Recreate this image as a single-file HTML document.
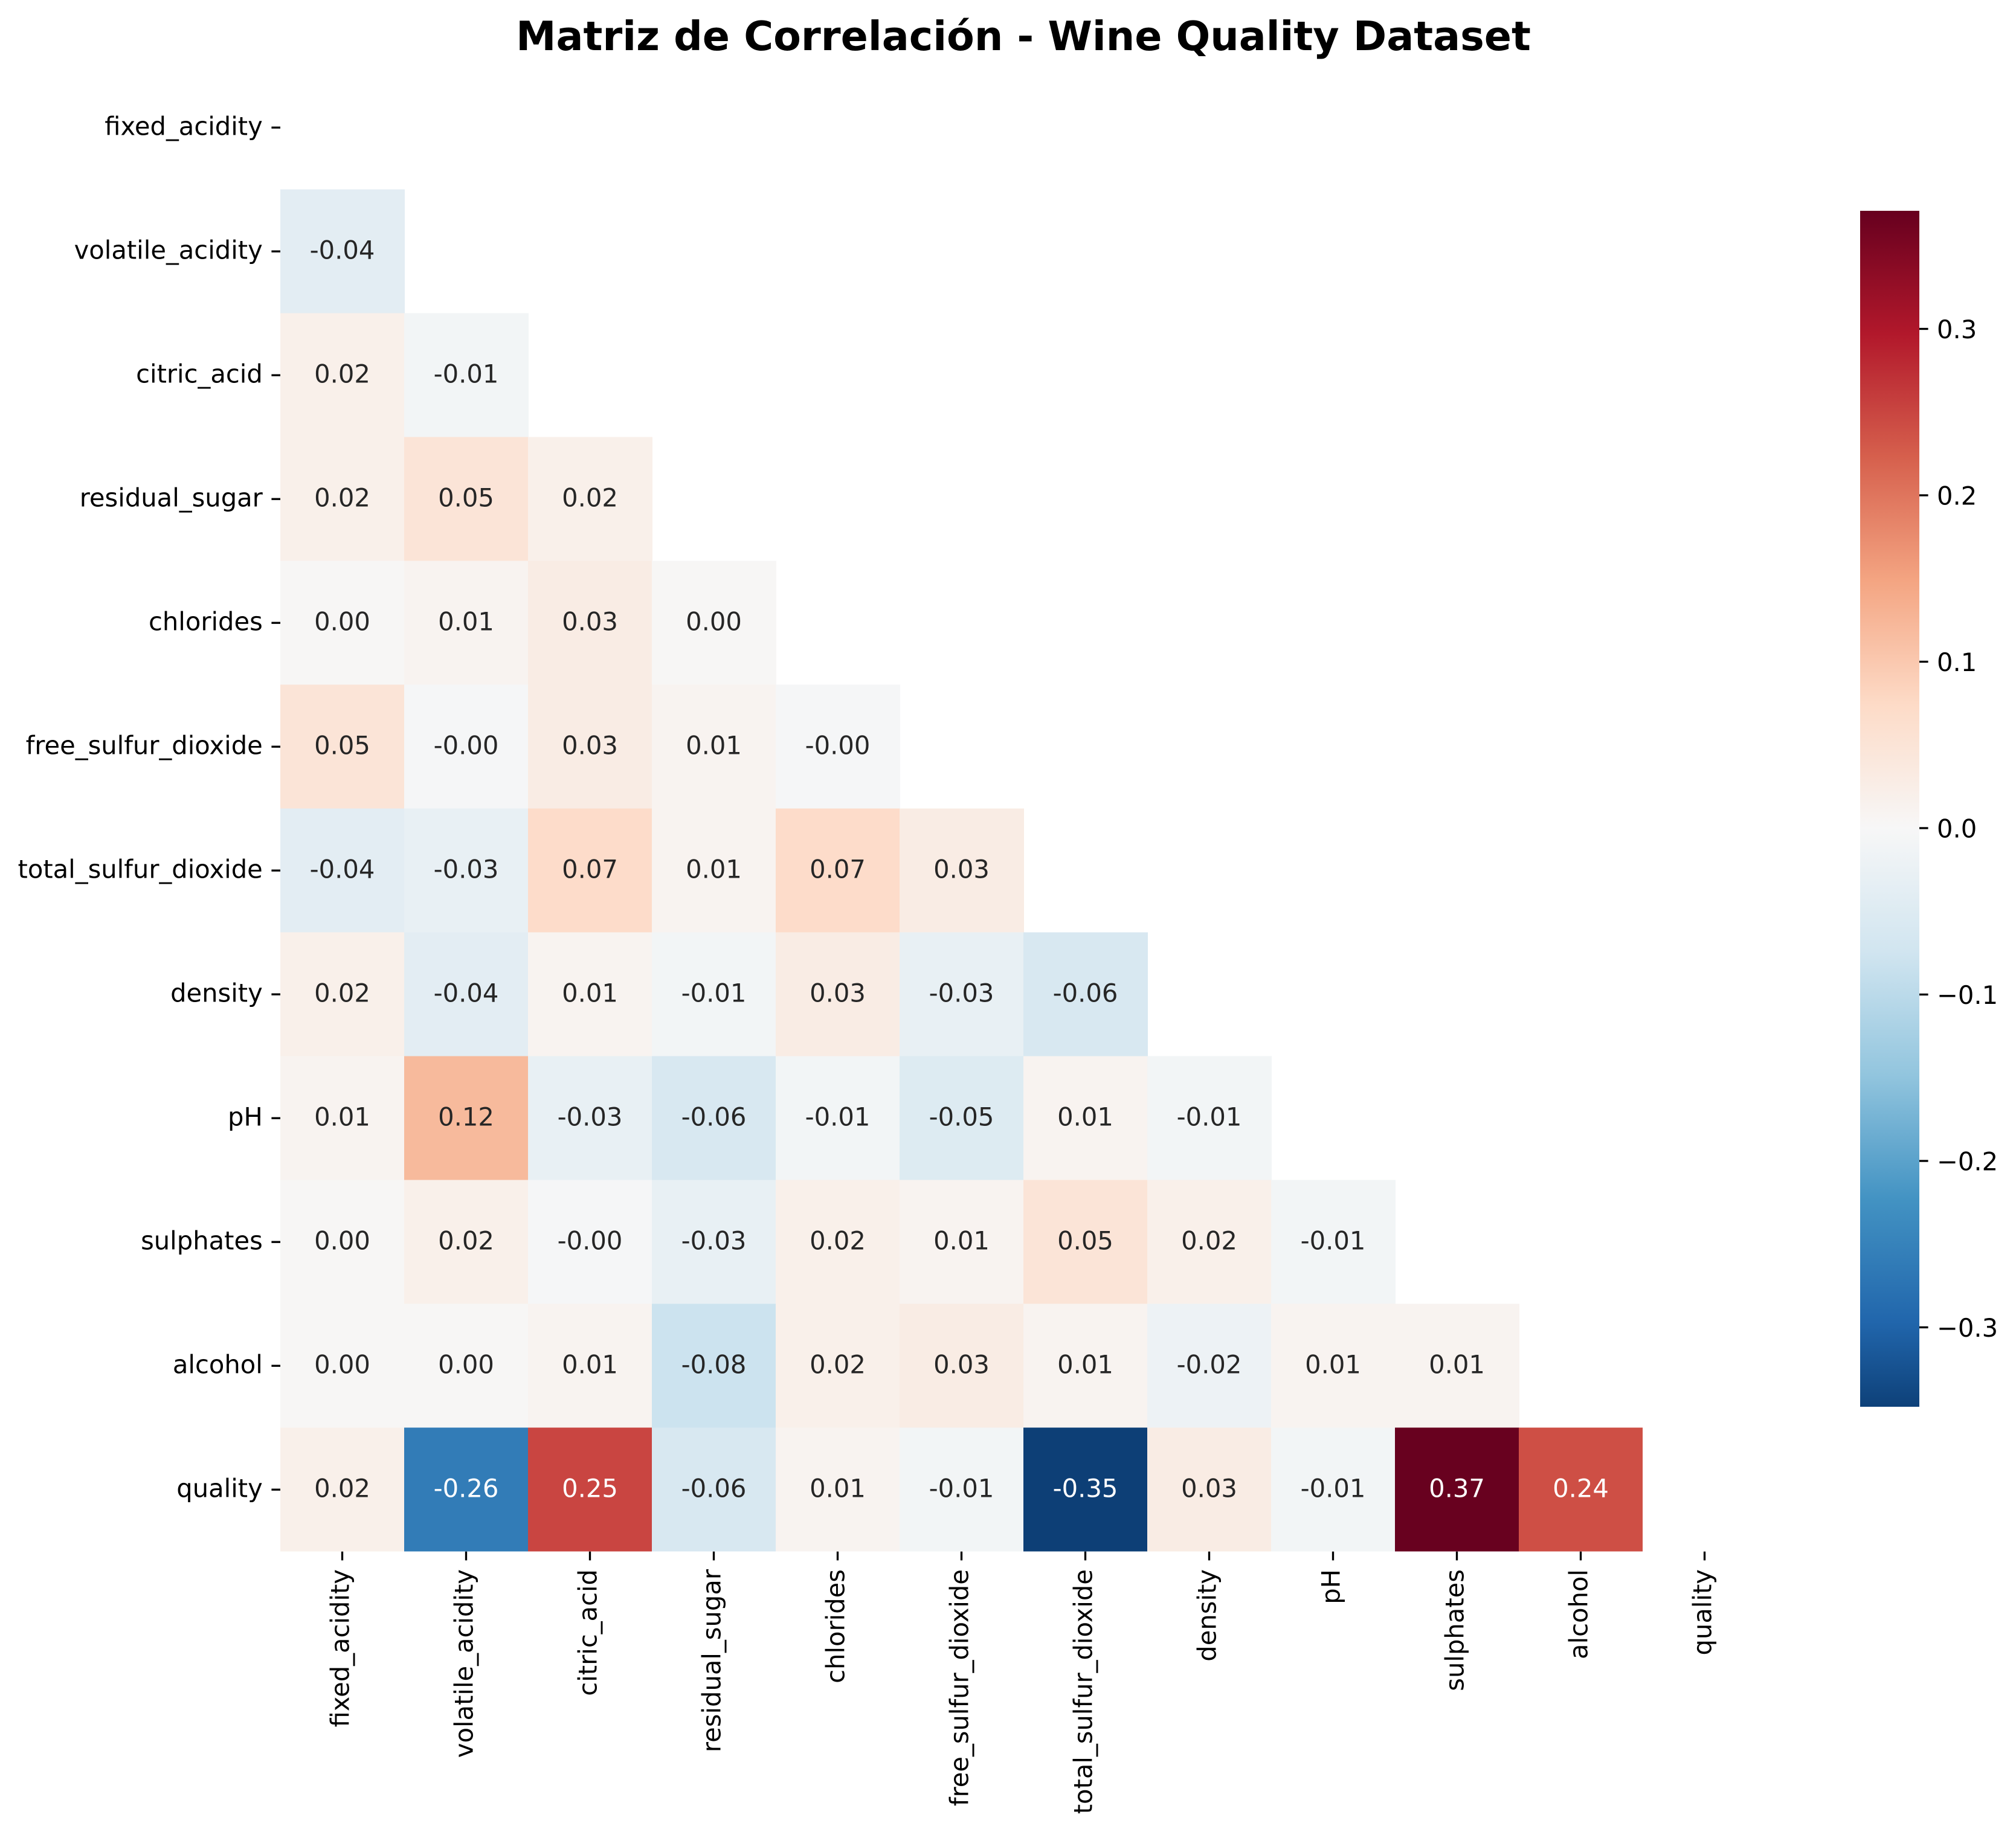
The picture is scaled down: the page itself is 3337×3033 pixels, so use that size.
<!DOCTYPE html>
<html>
<head>
<meta charset="utf-8">
<style>
html,body{margin:0;padding:0;background:#fff;}
svg{display:block;}
text{font-family:"DejaVu Sans","Liberation Sans",sans-serif;}
</style>
</head>
<body>
<svg xmlns="http://www.w3.org/2000/svg" width="3337" height="3033" viewBox="0 0 3337 3033">
<defs>
<linearGradient id="cb" x1="0" y1="0" x2="0" y2="1">
<stop offset="0" stop-color="#67001f"/>
<stop offset="0.1032" stop-color="#b2182b"/>
<stop offset="0.2065" stop-color="#d6604d"/>
<stop offset="0.3097" stop-color="#f4a582"/>
<stop offset="0.4130" stop-color="#fddbc7"/>
<stop offset="0.5162" stop-color="#f7f7f7"/>
<stop offset="0.6195" stop-color="#d1e5f0"/>
<stop offset="0.7227" stop-color="#92c5de"/>
<stop offset="0.8259" stop-color="#4393c3"/>
<stop offset="0.9292" stop-color="#2166ac"/>
<stop offset="1" stop-color="#0e4179"/>
</linearGradient>
</defs>
<rect width="3337" height="3033" fill="#fff"/>

<text x="1694" y="83" text-anchor="middle" font-size="66.67" font-weight="bold" fill="#000">Matriz de Correlación - Wine Quality Dataset</text>

<!-- cells -->
<g shape-rendering="crispEdges">
<!-- row 1 -->
<rect x="464" y="313.7" width="206" height="206" fill="#e3edf3"/>
<!-- row 2 -->
<rect x="464" y="518.7" width="206" height="206" fill="#f9f0ea"/>
<rect x="669" y="518.7" width="206" height="206" fill="#f2f5f6"/>
<!-- row 3 -->
<rect x="464" y="723.7" width="206" height="206" fill="#f9f0ea"/>
<rect x="669" y="723.7" width="206" height="206" fill="#fbe4d7"/>
<rect x="874" y="723.7" width="206" height="206" fill="#f9f0ea"/>
<!-- row 4 -->
<rect x="464" y="928.7" width="206" height="206" fill="#f7f6f5"/>
<rect x="669" y="928.7" width="206" height="206" fill="#f8f3f0"/>
<rect x="874" y="928.7" width="206" height="206" fill="#f9ece4"/>
<rect x="1079" y="928.7" width="206" height="206" fill="#f7f6f5"/>
<!-- row 5 -->
<rect x="464" y="1133.7" width="206" height="206" fill="#fbe4d7"/>
<rect x="669" y="1133.7" width="206" height="206" fill="#f5f6f7"/>
<rect x="874" y="1133.7" width="206" height="206" fill="#f9ece4"/>
<rect x="1079" y="1133.7" width="206" height="206" fill="#f8f3f0"/>
<rect x="1284" y="1133.7" width="206" height="206" fill="#f5f6f7"/>
<!-- row 6 -->
<rect x="464" y="1338.7" width="206" height="206" fill="#e3edf3"/>
<rect x="669" y="1338.7" width="206" height="206" fill="#e8f0f4"/>
<rect x="874" y="1338.7" width="206" height="206" fill="#fddcca"/>
<rect x="1079" y="1338.7" width="206" height="206" fill="#f8f3f0"/>
<rect x="1284" y="1338.7" width="206" height="206" fill="#fddcca"/>
<rect x="1489" y="1338.7" width="206" height="206" fill="#f9ece4"/>
<!-- row 7 -->
<rect x="464" y="1543.7" width="206" height="206" fill="#f9f0ea"/>
<rect x="669" y="1543.7" width="206" height="206" fill="#e3edf3"/>
<rect x="874" y="1543.7" width="206" height="206" fill="#f8f3f0"/>
<rect x="1079" y="1543.7" width="206" height="206" fill="#f2f5f6"/>
<rect x="1284" y="1543.7" width="206" height="206" fill="#f9ece4"/>
<rect x="1489" y="1543.7" width="206" height="206" fill="#e8f0f4"/>
<rect x="1694" y="1543.7" width="206" height="206" fill="#d8e8f1"/>
<!-- row 8 -->
<rect x="464" y="1748.7" width="206" height="206" fill="#f8f3f0"/>
<rect x="669" y="1748.7" width="206" height="206" fill="#f7ba9c"/>
<rect x="874" y="1748.7" width="206" height="206" fill="#e8f0f4"/>
<rect x="1079" y="1748.7" width="206" height="206" fill="#d8e8f1"/>
<rect x="1284" y="1748.7" width="206" height="206" fill="#f2f5f6"/>
<rect x="1489" y="1748.7" width="206" height="206" fill="#ddebf2"/>
<rect x="1694" y="1748.7" width="206" height="206" fill="#f8f3f0"/>
<rect x="1899" y="1748.7" width="206" height="206" fill="#f2f5f6"/>
<!-- row 9 -->
<rect x="464" y="1953.7" width="206" height="206" fill="#f7f6f5"/>
<rect x="669" y="1953.7" width="206" height="206" fill="#f9f0ea"/>
<rect x="874" y="1953.7" width="206" height="206" fill="#f5f6f7"/>
<rect x="1079" y="1953.7" width="206" height="206" fill="#e8f0f4"/>
<rect x="1284" y="1953.7" width="206" height="206" fill="#f9f0ea"/>
<rect x="1489" y="1953.7" width="206" height="206" fill="#f8f3f0"/>
<rect x="1694" y="1953.7" width="206" height="206" fill="#fbe4d7"/>
<rect x="1899" y="1953.7" width="206" height="206" fill="#f9f0ea"/>
<rect x="2104" y="1953.7" width="206" height="206" fill="#f2f5f6"/>
<!-- row 10 -->
<rect x="464" y="2158.7" width="206" height="206" fill="#f7f6f5"/>
<rect x="669" y="2158.7" width="206" height="206" fill="#f7f6f5"/>
<rect x="874" y="2158.7" width="206" height="206" fill="#f8f3f0"/>
<rect x="1079" y="2158.7" width="206" height="206" fill="#cce3ef"/>
<rect x="1284" y="2158.7" width="206" height="206" fill="#f9f0ea"/>
<rect x="1489" y="2158.7" width="206" height="206" fill="#f9ece4"/>
<rect x="1694" y="2158.7" width="206" height="206" fill="#f8f3f0"/>
<rect x="1899" y="2158.7" width="206" height="206" fill="#edf2f5"/>
<rect x="2104" y="2158.7" width="206" height="206" fill="#f8f3f0"/>
<rect x="2309" y="2158.7" width="206" height="206" fill="#f8f3f0"/>
<!-- row 11 -->
<rect x="464" y="2363.7" width="206" height="205" fill="#f9f0ea"/>
<rect x="669" y="2363.7" width="206" height="205" fill="#327cb7"/>
<rect x="874" y="2363.7" width="206" height="205" fill="#c94541"/>
<rect x="1079" y="2363.7" width="206" height="205" fill="#d8e8f1"/>
<rect x="1284" y="2363.7" width="206" height="205" fill="#f8f3f0"/>
<rect x="1489" y="2363.7" width="206" height="205" fill="#f2f5f6"/>
<rect x="1694" y="2363.7" width="206" height="205" fill="#0d3f76"/>
<rect x="1899" y="2363.7" width="206" height="205" fill="#f9ece4"/>
<rect x="2104" y="2363.7" width="206" height="205" fill="#f2f5f6"/>
<rect x="2309" y="2363.7" width="206" height="205" fill="#68011f"/>
<rect x="2514" y="2363.7" width="205" height="205" fill="#ce4f45"/>
</g>

<!-- annotations -->
<g font-size="41.67" text-anchor="middle" fill="#262626">
<text x="566.5" y="428.7">-0.04</text>

<text x="566.5" y="633.7">0.02</text>
<text x="771.5" y="633.7">-0.01</text>

<text x="566.5" y="838.7">0.02</text>
<text x="771.5" y="838.7">0.05</text>
<text x="976.5" y="838.7">0.02</text>

<text x="566.5" y="1043.7">0.00</text>
<text x="771.5" y="1043.7">0.01</text>
<text x="976.5" y="1043.7">0.03</text>
<text x="1181.5" y="1043.7">0.00</text>

<text x="566.5" y="1248.7">0.05</text>
<text x="771.5" y="1248.7">-0.00</text>
<text x="976.5" y="1248.7">0.03</text>
<text x="1181.5" y="1248.7">0.01</text>
<text x="1386.5" y="1248.7">-0.00</text>

<text x="566.5" y="1453.7">-0.04</text>
<text x="771.5" y="1453.7">-0.03</text>
<text x="976.5" y="1453.7">0.07</text>
<text x="1181.5" y="1453.7">0.01</text>
<text x="1386.5" y="1453.7">0.07</text>
<text x="1591.5" y="1453.7">0.03</text>

<text x="566.5" y="1658.7">0.02</text>
<text x="771.5" y="1658.7">-0.04</text>
<text x="976.5" y="1658.7">0.01</text>
<text x="1181.5" y="1658.7">-0.01</text>
<text x="1386.5" y="1658.7">0.03</text>
<text x="1591.5" y="1658.7">-0.03</text>
<text x="1796.5" y="1658.7">-0.06</text>

<text x="566.5" y="1863.7">0.01</text>
<text x="771.5" y="1863.7">0.12</text>
<text x="976.5" y="1863.7">-0.03</text>
<text x="1181.5" y="1863.7">-0.06</text>
<text x="1386.5" y="1863.7">-0.01</text>
<text x="1591.5" y="1863.7">-0.05</text>
<text x="1796.5" y="1863.7">0.01</text>
<text x="2001.5" y="1863.7">-0.01</text>

<text x="566.5" y="2068.7">0.00</text>
<text x="771.5" y="2068.7">0.02</text>
<text x="976.5" y="2068.7">-0.00</text>
<text x="1181.5" y="2068.7">-0.03</text>
<text x="1386.5" y="2068.7">0.02</text>
<text x="1591.5" y="2068.7">0.01</text>
<text x="1796.5" y="2068.7">0.05</text>
<text x="2001.5" y="2068.7">0.02</text>
<text x="2206.5" y="2068.7">-0.01</text>

<text x="566.5" y="2273.7">0.00</text>
<text x="771.5" y="2273.7">0.00</text>
<text x="976.5" y="2273.7">0.01</text>
<text x="1181.5" y="2273.7">-0.08</text>
<text x="1386.5" y="2273.7">0.02</text>
<text x="1591.5" y="2273.7">0.03</text>
<text x="1796.5" y="2273.7">0.01</text>
<text x="2001.5" y="2273.7">-0.02</text>
<text x="2206.5" y="2273.7">0.01</text>
<text x="2411.5" y="2273.7">0.01</text>

<text x="566.5" y="2478.7">0.02</text>
<text x="771.5" y="2478.7" fill="#ffffff">-0.26</text>
<text x="976.5" y="2478.7" fill="#ffffff">0.25</text>
<text x="1181.5" y="2478.7">-0.06</text>
<text x="1386.5" y="2478.7">0.01</text>
<text x="1591.5" y="2478.7">-0.01</text>
<text x="1796.5" y="2478.7" fill="#ffffff">-0.35</text>
<text x="2001.5" y="2478.7">0.03</text>
<text x="2206.5" y="2478.7">-0.01</text>
<text x="2411.5" y="2478.7" fill="#ffffff">0.37</text>
<text x="2616.5" y="2478.7" fill="#ffffff">0.24</text>
</g>

<!-- y ticks -->
<g stroke="#000" stroke-width="3.33">
<line x1="449.4" y1="211.2" x2="464" y2="211.2"/>
<line x1="449.4" y1="416.2" x2="464" y2="416.2"/>
<line x1="449.4" y1="621.2" x2="464" y2="621.2"/>
<line x1="449.4" y1="826.2" x2="464" y2="826.2"/>
<line x1="449.4" y1="1031.2" x2="464" y2="1031.2"/>
<line x1="449.4" y1="1236.2" x2="464" y2="1236.2"/>
<line x1="449.4" y1="1441.2" x2="464" y2="1441.2"/>
<line x1="449.4" y1="1646.2" x2="464" y2="1646.2"/>
<line x1="449.4" y1="1851.2" x2="464" y2="1851.2"/>
<line x1="449.4" y1="2056.2" x2="464" y2="2056.2"/>
<line x1="449.4" y1="2261.2" x2="464" y2="2261.2"/>
<line x1="449.4" y1="2466.2" x2="464" y2="2466.2"/>
<!-- x ticks -->
<line x1="566.5" y1="2568.7" x2="566.5" y2="2583.3"/>
<line x1="771.5" y1="2568.7" x2="771.5" y2="2583.3"/>
<line x1="976.5" y1="2568.7" x2="976.5" y2="2583.3"/>
<line x1="1181.5" y1="2568.7" x2="1181.5" y2="2583.3"/>
<line x1="1386.5" y1="2568.7" x2="1386.5" y2="2583.3"/>
<line x1="1591.5" y1="2568.7" x2="1591.5" y2="2583.3"/>
<line x1="1796.5" y1="2568.7" x2="1796.5" y2="2583.3"/>
<line x1="2001.5" y1="2568.7" x2="2001.5" y2="2583.3"/>
<line x1="2206.5" y1="2568.7" x2="2206.5" y2="2583.3"/>
<line x1="2411.5" y1="2568.7" x2="2411.5" y2="2583.3"/>
<line x1="2616.5" y1="2568.7" x2="2616.5" y2="2583.3"/>
<line x1="2821.5" y1="2568.7" x2="2821.5" y2="2583.3"/>
</g>

<!-- y tick labels -->
<g font-size="41.67" text-anchor="end" fill="#000">
<text x="434.8" y="223.5">fixed_acidity</text>
<text x="434.8" y="428.5">volatile_acidity</text>
<text x="434.8" y="633.5">citric_acid</text>
<text x="434.8" y="838.5">residual_sugar</text>
<text x="434.8" y="1043.5">chlorides</text>
<text x="434.8" y="1248.5">free_sulfur_dioxide</text>
<text x="434.8" y="1453.5">total_sulfur_dioxide</text>
<text x="434.8" y="1658.5">density</text>
<text x="434.8" y="1863.5">pH</text>
<text x="434.8" y="2068.5">sulphates</text>
<text x="434.8" y="2273.5">alcohol</text>
<text x="434.8" y="2478.5">quality</text>
</g>

<!-- x tick labels -->
<g font-size="41.67" text-anchor="end" fill="#000">
<text transform="translate(577.3,2598) rotate(-90)">fixed_acidity</text>
<text transform="translate(782.3,2598) rotate(-90)">volatile_acidity</text>
<text transform="translate(987.3,2598) rotate(-90)">citric_acid</text>
<text transform="translate(1192.3,2598) rotate(-90)">residual_sugar</text>
<text transform="translate(1397.3,2598) rotate(-90)">chlorides</text>
<text transform="translate(1602.3,2598) rotate(-90)">free_sulfur_dioxide</text>
<text transform="translate(1807.3,2598) rotate(-90)">total_sulfur_dioxide</text>
<text transform="translate(2012.3,2598) rotate(-90)">density</text>
<text transform="translate(2217.3,2598) rotate(-90)">pH</text>
<text transform="translate(2422.3,2598) rotate(-90)">sulphates</text>
<text transform="translate(2627.3,2598) rotate(-90)">alcohol</text>
<text transform="translate(2832.3,2598) rotate(-90)">quality</text>
</g>

<!-- colorbar -->
<rect x="3079" y="349" width="98" height="1980" fill="url(#cb)"/>
<g stroke="#000" stroke-width="3.33">
<line x1="3177" y1="544.5" x2="3191.6" y2="544.5"/>
<line x1="3177" y1="820" x2="3191.6" y2="820"/>
<line x1="3177" y1="1095.5" x2="3191.6" y2="1095.5"/>
<line x1="3177" y1="1371" x2="3191.6" y2="1371"/>
<line x1="3177" y1="1646.5" x2="3191.6" y2="1646.5"/>
<line x1="3177" y1="1922" x2="3191.6" y2="1922"/>
<line x1="3177" y1="2197.5" x2="3191.6" y2="2197.5"/>
</g>
<g font-size="41.67" fill="#000">
<text x="3206" y="560">0.3</text>
<text x="3206" y="835.5">0.2</text>
<text x="3206" y="1111">0.1</text>
<text x="3206" y="1386.5">0.0</text>
<text x="3206" y="1662">−0.1</text>
<text x="3206" y="1937.5">−0.2</text>
<text x="3206" y="2213">−0.3</text>
</g>
</svg>
</body>
</html>
